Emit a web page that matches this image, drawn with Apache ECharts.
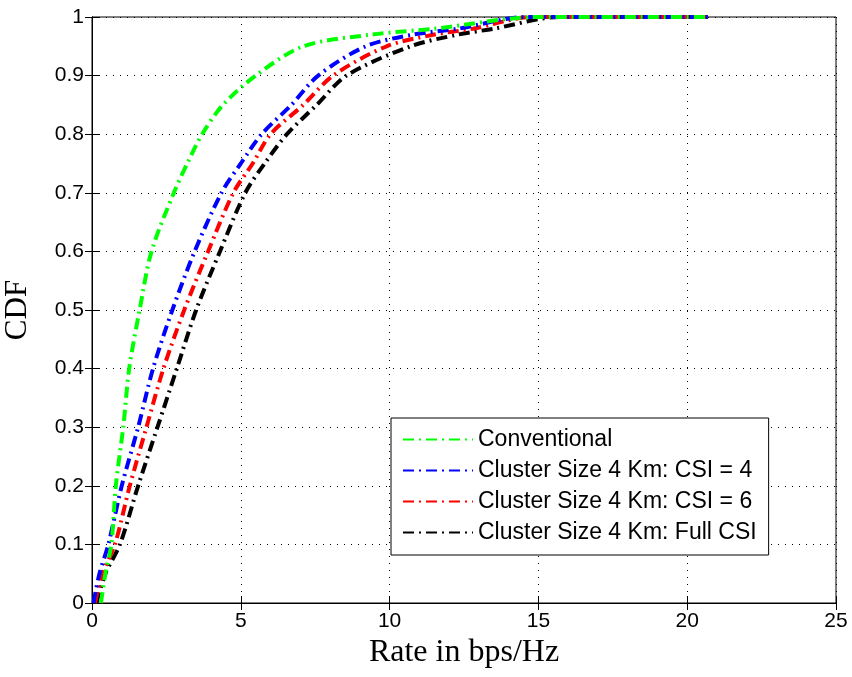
<!DOCTYPE html>
<html>
<head>
<meta charset="utf-8">
<script src="https://cdn.jsdelivr.net/npm/echarts@6/dist/echarts.min.js"></script>
<style>
  html, body { margin: 0; padding: 0; background: #fff; }
  #main { width: 852px; height: 677px; }
</style>
</head>
<body>
<div id="main"></div>
<script>
  // CDF levels shared by all curves, and the rate (x) read at each level
  var cdfLevels = [0, 0.05, 0.1, 0.2, 0.3, 0.4, 0.5, 0.6, 0.7, 0.75, 0.8, 0.85, 0.9, 0.95, 0.97, 0.98, 1, 1]
  var rateConventional = [0.3, 0.45, 0.65, 0.8, 1.05, 1.25, 1.6, 2.0, 2.75, 3.2, 3.7, 4.4, 5.5, 7.1, 9.4, 11.5, 15.0, 20.7]
  var rateCsi4 = [0.05, 0.25, 0.55, 1.0, 1.55, 2.05, 2.7, 3.45, 4.35, 5.0, 5.7, 6.7, 7.6, 9.2, 10.8, 12.3, 14.6, 20.7]
  var rateCsi6 = [0.1, 0.35, 0.77, 1.27, 1.83, 2.4, 3.1, 3.9, 4.75, 5.4, 6.0, 7.1, 8.1, 9.9, 11.5, 12.8, 14.8, 20.7]
  var rateFullCsi = [0.15, 0.45, 0.94, 1.55, 2.2, 2.85, 3.5, 4.3, 5.15, 5.8, 6.55, 7.55, 8.55, 10.7, 12.3, 13.5, 15.7, 20.7]

  var seriesNames = ['Conventional', 'Cluster Size 4 Km: CSI = 4', 'Cluster Size 4 Km: CSI = 6', 'Cluster Size 4 Km: Full CSI']
  var seriesColors = ['#00ff00', '#0000ff', '#ff0000', '#000000']
  var seriesRates = [rateConventional, rateCsi4, rateCsi6, rateFullCsi]

  function pairs(rates) {
    return rates.map(function (r, i) { return [r, cdfLevels[i]] })
  }

  var series = seriesRates.map(function (rates, i) {
    return {
      name: seriesNames[i],
      type: 'line',
      data: pairs(rates),
      symbol: 'none',
      smooth: 0.3,
      lineStyle: {
        color: seriesColors[i],
        width: 4,
        type: [11, 5, 2, 5]
      },
      itemStyle: { color: seriesColors[i] },
      z: 10 - i
    }
  })

  var tickLabel = { color: '#000', fontFamily: 'Liberation Sans', fontSize: 21 }
  var dotted = { show: true, lineStyle: { color: '#000', type: [1, 6], width: 1 } }
  var tick = { show: true, inside: true, length: 7, lineStyle: { color: '#000' } }
  var axisLine = { show: true, lineStyle: { color: '#000' } }

  var myChart = echarts.init(document.getElementById('main'))
  myChart.setOption({
    animation: false,
    backgroundColor: '#fff',
    grid: {
      left: 92,
      right: 16,
      top: 17,
      bottom: 74,
      outerBoundsMode: 'none',
      show: true,
      borderColor: '#000',
      borderWidth: 1
    },
    legend: {
      data: seriesNames,
      orient: 'vertical',
      left: 391,
      top: 418,
      padding: [10, 12, 11, 11],
      itemGap: 8,
      itemWidth: 70,
      itemHeight: 14,
      itemStyle: { opacity: 0 },
      backgroundColor: '#fff',
      borderColor: '#000',
      borderWidth: 1,
      borderRadius: 0,
      textStyle: { color: '#000', fontFamily: 'Liberation Sans', fontSize: 23 }
    },
    xAxis: [
      {
        type: 'value',
        min: 0,
        max: 25,
        interval: 5,
        name: 'Rate in bps/Hz',
        nameLocation: 'middle',
        nameGap: 34,
        nameTextStyle: { color: '#000', fontFamily: 'Liberation Serif', fontSize: 32 },
        axisLine: axisLine,
        axisTick: tick,
        axisLabel: Object.assign({ margin: 8 }, tickLabel),
        splitLine: dotted
      },
      {
        type: 'value',
        position: 'top',
        min: 0,
        max: 25,
        interval: 5,
        axisLine: axisLine,
        axisTick: tick,
        axisLabel: { show: false },
        splitLine: { show: false }
      }
    ],
    yAxis: [
      {
        type: 'value',
        min: 0,
        max: 1,
        interval: 0.1,
        name: 'CDF',
        nameLocation: 'middle',
        nameGap: 59,
        nameRotate: 90,
        nameTextStyle: { color: '#000', fontFamily: 'Liberation Serif', fontSize: 31 },
        axisLine: axisLine,
        axisTick: tick,
        axisLabel: Object.assign({ margin: 8, formatter: function (v) { return String(Math.round(v * 10) / 10) } }, tickLabel),
        splitLine: dotted
      },
      {
        type: 'value',
        position: 'right',
        min: 0,
        max: 1,
        interval: 0.1,
        axisLine: axisLine,
        axisTick: tick,
        axisLabel: { show: false },
        splitLine: { show: false }
      }
    ],
    series: series
  })
</script>
</body>
</html>
